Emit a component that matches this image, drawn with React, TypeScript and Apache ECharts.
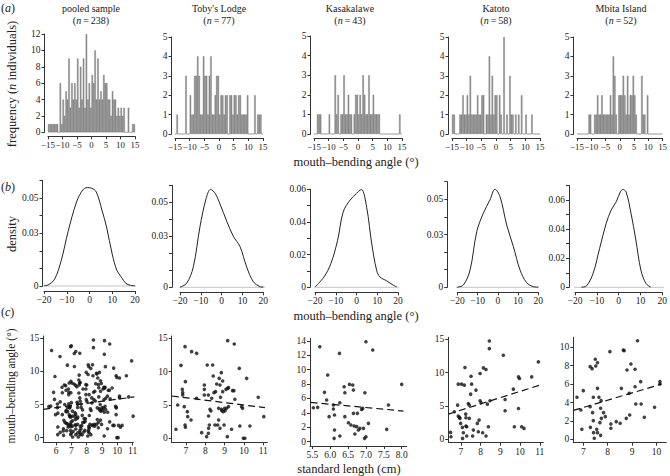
import React, { useEffect, useRef } from 'react';
import * as echarts from 'echarts';

const FONT = 'Liberation Serif';

// ---------- (a) histogram counts, bins of 0.5 from -15 to 15 ----------
const histPooled = [1,1,1,1,1,1,1,0,6,1,4,2,5,4,9,3,6,4,6,4,9,3,8,4,9,3,12,4,6,3,7,6,10,4,9,4,5,4,7,6,6,4,4,2,5,4,4,2,3,2,3,2,3,0,0,3,0,0,1,1];
const histToby = [0,1,0,0,0,0,0,3,0,0,2,1,1,3,3,4,3,1,1,4,3,3,1,3,4,1,1,2,3,3,1,2,2,1,2,2,0,2,2,1,2,2,1,2,2,1,1,1,1,2,0,0,0,0,2,0,1,1,1,0];
const histKasa = [0,0,1,1,1,0,0,0,0,0,1,0,0,0,3,1,2,0,1,1,3,1,1,2,1,1,0,1,2,2,1,2,1,3,2,1,1,3,1,1,2,1,1,1,1,0,0,0,0,0,0,0,0,0,0,0,0,0,1,0];
const histKatoto = [1,1,0,0,0,1,1,2,1,1,2,1,3,1,1,1,1,2,1,1,2,2,0,1,1,4,1,3,1,2,2,0,2,1,0,5,0,1,0,3,1,1,0,1,0,1,0,2,0,0,1,0,0,0,1,0,0,0,0,0];
const histMbita = [0,0,0,0,0,0,0,0,1,1,0,0,1,1,2,1,1,2,1,1,1,1,1,2,1,4,3,1,0,2,2,2,3,2,1,3,1,2,2,3,2,1,0,0,0,3,1,1,0,2,0,0,0,0,0,0,0,0,0,0];
const histXTicks = [-15, -10, -5, 0, 5, 10, 15];

// ---------- (b) kernel density curves ----------
const densPooled = [[-20,0.0002],[-18.2,0.0006],[-15.3,0.004],[-12.4,0.0146],[-9.4,0.031],[-5.7,0.0477],[-3,0.0545],[-1,0.0559],[1,0.0555],[3,0.0534],[5.5,0.043],[7.5,0.0335],[10,0.018],[12,0.009],[14,0.005],[16,0.0015],[18,0.0004],[20,0.0001]];
const densToby = [[-20,0.0001],[-16.8,0.0024],[-13.6,0.012],[-10.4,0.0357],[-7.5,0.052],[-5.3,0.0576],[-3,0.055],[-0.8,0.049],[2.4,0.039],[5.6,0.030],[8.8,0.024],[12,0.012],[15.2,0.0033],[18.4,0.0004],[20,0.0001]];
const densKasa = [[-20,0.0002],[-15.7,0.0063],[-12.3,0.0147],[-9.1,0.0288],[-6.4,0.0462],[-3.1,0.0534],[0,0.0575],[1.7,0.0595],[2.5,0.0598],[4.9,0.049],[7.3,0.027],[9.7,0.0104],[11.3,0.0063],[14.5,0.004],[17.7,0.0013],[19.4,0.0003]];
const densKatoto = [[-20,0.0001],[-17,0.0013],[-13.7,0.0098],[-10.4,0.0316],[-7.2,0.042],[-3.9,0.0496],[-1.4,0.0557],[1.1,0.0515],[4.4,0.0354],[7.7,0.0231],[11,0.0098],[14.2,0.0027],[17.5,0.0004],[20,0.0001]];
const densMbita = [[-17,0.0001],[-14.7,0.001],[-11.7,0.0096],[-8.7,0.0268],[-5.7,0.044],[-3.4,0.0531],[-1.1,0.0588],[0.8,0.0657],[1.9,0.0673],[3.4,0.0657],[5.7,0.0508],[7.9,0.0325],[10.2,0.0119],[12.5,0.0027],[14.7,0.0002]];
const densXTicks = [-20, -10, 0, 10, 20];

// ---------- (c) standard length (cm) vs mouth-bending angle ----------
const scatToby = [[6.48,1.35],[6.57,5.0],[6.74,10.95],[6.81,7.35],[6.83,6.85],[6.83,6.5],[6.91,4.75],[6.97,8.5],[6.95,13.75],[6.95,2.0],[6.97,1.65],[7.07,4.0],[7.09,3.25],[7.26,2.75],[7.29,13.0],[7.55,12.75],[7.55,6.0],[7.81,0.85],[7.95,8.0],[7.95,7.35],[7.95,6.5],[8.07,0.25],[8.1,11.0],[8.16,0.75],[8.17,1.5],[8.21,2.0],[8.17,3.35],[8.16,6.5],[8.24,4.35],[8.29,4.1],[8.33,6.0],[8.38,11.0],[8.41,9.35],[8.45,6.85],[8.5,2.0],[8.53,7.0],[8.59,8.15],[8.64,2.0],[8.69,2.75],[8.69,4.5],[8.72,9.0],[8.76,8.0],[8.76,1.5],[8.79,6.15],[8.83,9.85],[8.83,4.35],[8.86,4.15],[8.9,8.6],[8.9,7.0],[8.93,4.0],[8.97,2.0],[9.0,4.5],[9.02,4.15],[9.07,7.35],[9.1,4.5],[9.14,0.25],[9.16,14.65],[9.16,7.5],[9.2,7.6],[9.2,4.75],[9.36,1.35],[9.41,7.15],[9.48,7.15],[9.5,14.15],[9.53,5.85],[9.76,10.5],[9.79,1.85],[9.88,4.75],[9.93,4.5],[9.97,0],[10.05,0],[10.14,9.0],[10.31,1.85],[10.74,6.15],[11.03,3.25]];
const scatKasa = [[5.53,4.71],[5.65,4.76],[5.71,13.17],[5.84,6.84],[5.9,5.78],[5.93,9.24],[5.97,3.47],[6.09,4.53],[6.09,5.08],[6.12,3.7],[6.12,1.62],[6.11,0.46],[6.26,12.25],[6.27,0.79],[6.27,5.4],[6.39,7.62],[6.41,6.79],[6.41,3.47],[6.51,2.63],[6.54,7.95],[6.58,2.31],[6.63,7.86],[6.65,7.16],[6.65,3.93],[6.67,2.17],[6.69,1.06],[6.74,2.08],[6.76,3.93],[6.79,1.62],[6.83,1.85],[6.88,4.48],[6.91,4.62],[6.93,1.85],[6.96,0.46],[6.97,6.79],[7.0,0.69],[7.0,13.86],[7.07,2.54],[7.19,12.71],[7.58,1.71],[7.63,5.08],[8.0,7.95]];
const scatKatoto = [[6.47,1.0],[6.49,0.35],[6.66,4.1],[6.83,5.1],[6.86,8.25],[6.86,3.45],[6.92,3.25],[6.95,3.1],[6.98,2.35],[7.03,8.25],[7.07,1.75],[7.08,0.1],[7.12,0.95],[7.17,8.1],[7.2,10.75],[7.24,3.75],[7.25,3.2],[7.25,1.95],[7.29,1.85],[7.29,0.45],[7.37,5.35],[7.42,5.1],[7.42,3.1],[7.49,6.75],[7.51,9.45],[7.54,8.25],[7.59,0.45],[7.63,1.35],[7.76,7.35],[7.83,2.35],[7.88,1.1],[7.92,2.85],[7.97,9.85],[7.97,5.75],[8.02,5.45],[8.1,0.95],[8.14,10.7],[8.27,10.45],[8.27,0.45],[8.34,5.25],[8.39,1.85],[8.44,14.75],[8.44,13.6],[8.47,5.75],[9.15,12.6],[9.24,5.95],[9.24,4.25],[9.66,7.5],[9.71,1.85],[9.92,9.35],[9.97,9.1],[9.92,4.6],[10.08,1.85],[10.2,1.6],[10.59,9.35],[10.93,11.6]];
const scatMbita = [[6.74,4.57],[6.9,3.19],[6.94,1.09],[7.0,5.29],[7.28,7.9],[7.28,3.55],[7.29,1.3],[7.36,7.68],[7.38,2.9],[7.41,4.57],[7.41,2.03],[7.42,0.72],[7.45,0.11],[7.49,8.7],[7.51,7.97],[7.55,1.09],[7.58,8.33],[7.58,0.72],[7.58,5.54],[7.64,4.57],[7.68,1.81],[7.71,3.37],[7.74,2.28],[7.73,4.2],[7.71,0.43],[7.83,2.9],[7.9,2.46],[8.09,9.53],[8.13,1.2],[8.13,1.67],[8.35,1.92],[8.51,1.74],[8.56,5.54],[8.64,9.71],[8.67,9.64],[8.76,2.28],[8.79,7.54],[8.88,5.0],[8.9,2.64],[8.95,8.19],[9.12,7.61],[9.12,5.72],[9.15,3.84],[9.22,10.72],[9.35,6.27],[9.37,3.84],[9.5,2.39],[9.92,3.48],[10.14,6.27],[10.14,6.01]];
const scatPooled = [...scatToby, ...scatKasa, ...scatKatoto, ...scatMbita];

const fitPooled = [[5.17,4.28],[11.1,6.15]];
const fitToby = [[6.26,6.35],[11.09,4.6]];
const fitKasa = [[5.45,5.45],[8.05,4.25]];
const fitKatoto = [[6.36,3.75],[11.1,8.2]];
const fitMbita = [[6.6,3.14],[10.2,6.0]];

const titles = ['pooled sample', "Toby's Lodge", 'Kasakalawe', 'Katoto', 'Mbita Island'];
const sampleSizes = [238, 77, 43, 58, 52];

const fmtNum = (v: number) => (v < 0 ? '\u2212' + Math.abs(v) : String(v));

type Box = { left: number; top: number; width: number; height: number };

function App() {
  const ref = useRef<HTMLDivElement>(null);
  useEffect(() => {
    if (!ref.current) return;
    const chart = echarts.init(ref.current, null, { renderer: 'svg' });
    const grids: any[] = [];
    const xAxes: any[] = [];
    const yAxes: any[] = [];
    const series: any[] = [];
    const lineCol = '#333';
    const labelStyle = { fontFamily: FONT, fontSize: 9.5, color: '#222' };

    const addPanel = (
      box: Box,
      x: { min: number; max: number; ticks: number[]; labels?: number[]; fmt?: (v: number) => string; offset: number; fs?: number },
      y: { min: number; max: number; ticks: number[]; labels?: number[]; fmt?: (v: number) => string; offset: number }
    ) => {
      const gi = grids.length;
      grids.push({ ...box, containLabel: false });
      xAxes.push({
        gridIndex: gi, type: 'value', min: x.min, max: x.max, offset: x.offset,
        axisLine: { show: true, onZero: false, lineStyle: { color: lineCol, width: 1 } },
        axisTick: { show: true, length: 3, customValues: x.ticks, lineStyle: { color: lineCol, width: 1 } },
        axisLabel: { ...labelStyle, fontSize: x.fs || labelStyle.fontSize, margin: 4, customValues: x.labels || x.ticks, formatter: x.fmt || fmtNum, hideOverlap: false, showMinLabel: true, showMaxLabel: true },
        splitLine: { show: false },
      });
      yAxes.push({
        gridIndex: gi, type: 'value', min: y.min, max: y.max, offset: y.offset,
        axisLine: { show: true, onZero: false, lineStyle: { color: lineCol, width: 1 } },
        axisTick: { show: true, length: 3, customValues: y.ticks, lineStyle: { color: lineCol, width: 1 } },
        axisLabel: { ...labelStyle, margin: 4, customValues: y.labels || y.ticks, formatter: y.fmt || fmtNum, hideOverlap: false, showMinLabel: true, showMaxLabel: true },
        splitLine: { show: false },
      });
      return gi;
    };

    // ---- row (a): histograms
    const histBoxes: Box[] = [
      { left: 48, top: 34, width: 87, height: 98.3 },
      { left: 175, top: 37, width: 88, height: 97 },
      { left: 314, top: 36, width: 88, height: 98 },
      { left: 452, top: 37, width: 88, height: 97 },
      { left: 577, top: 37, width: 88, height: 97 },
    ];
    const hists = [histPooled, histToby, histKasa, histKatoto, histMbita];
    hists.forEach((counts, p) => {
      const ymax = p === 0 ? 12 : 5;
      const yt = p === 0 ? [0, 2, 4, 6, 8, 10, 12] : [0, 1, 2, 3, 4, 5];
      const gi = addPanel(
        histBoxes[p],
        { min: -15, max: 15, ticks: histXTicks, offset: 4, fs: 8.9 },
        { min: 0, max: ymax, ticks: yt, offset: 3.5 }
      );
      series.push({
        type: 'bar', xAxisIndex: gi, yAxisIndex: gi,
        data: counts.map((c, k) => [-14.75 + 0.5 * k, c]),
        barWidth: 1.45,
        itemStyle: { color: '#9a9a9a', borderColor: '#5e5e5e', borderWidth: 0.35 },
        silent: true,
      });
    });

    // ---- row (b): densities
    const densBoxes: Box[] = [
      { left: 44, top: 180.4, width: 91, height: 105.6 },
      { left: 180, top: 185.3, width: 83.3, height: 102 },
      { left: 315, top: 189.3, width: 83, height: 98 },
      { left: 457.3, top: 181.7, width: 81, height: 105.6 },
      { left: 575, top: 185.5, width: 88.3, height: 101.8 },
    ];
    const dens = [densPooled, densToby, densKasa, densKatoto, densMbita];
    const densYOff = [1.5, 8, 5, 10, 6];
    const baseExt = [[-21.8, 22.2], [-23.7, 21.6], [-22.4, 22.4], [-25.5, 22], [-22.9, 22.4]];
    dens.forEach((pts, p) => {
      const six = p === 2 || p === 4;
      const ymax = p === 4 ? 0.07 : 0.06;
      const yt = p === 4 ? [0, 0.01, 0.02, 0.03, 0.04, 0.05, 0.06, 0.07] : [0, 0.01, 0.02, 0.03, 0.04, 0.05, 0.06];
      const yl = six ? [0, 0.02, 0.04, 0.06] : [0, 0.03, 0.05];
      const gi = addPanel(
        densBoxes[p],
        { min: -20, max: 20, ticks: densXTicks, offset: 5 },
        { min: 0, max: ymax, ticks: yt, labels: yl, fmt: (v) => (v === 0 ? '0' : v.toFixed(2)), offset: densYOff[p] }
      );
      series.push({
        type: 'line', xAxisIndex: gi, yAxisIndex: gi, clip: false, silent: true,
        data: [[baseExt[p][0], 0], [baseExt[p][1], 0]], showSymbol: false, symbol: 'none',
        lineStyle: { color: '#c4c4c4', width: 1 }, z: 1,
      });
      series.push({
        type: 'line', xAxisIndex: gi, yAxisIndex: gi, clip: false, silent: true,
        data: pts, smooth: 0.35, showSymbol: false, symbol: 'none',
        lineStyle: { color: '#222', width: 1 }, z: 3,
      });
    });

    // ---- row (c): scatter
    const scatBoxes: Box[] = [
      { left: 43.3, top: 336, width: 90, height: 106.3 },
      { left: 171.7, top: 336, width: 95.6, height: 106.3 },
      { left: 310, top: 338.3, width: 96.7, height: 107.7 },
      { left: 448.3, top: 337.3, width: 95, height: 105.4 },
      { left: 573.3, top: 337.3, width: 93, height: 105.4 },
    ];
    const scatCfg = [
      { x: [5.17, 11.04], xt: [6, 7, 8, 9, 10, 11], y: [-0.7, 15.35], yt: [0, 5, 10, 15] },
      { x: [6.26, 11.21], xt: [7, 8, 9, 10, 11], y: [-0.6, 15.35], yt: [0, 5, 10, 15] },
      { x: [5.435, 8.14], xt: [5.5, 6, 6.5, 7, 7.5, 8], y: [-0.6, 14.34], yt: [0, 2, 4, 6, 8, 10, 12, 14] },
      { x: [6.355, 11.18], xt: [7, 8, 9, 10, 11], y: [-0.55, 15.3], yt: [0, 5, 10, 15] },
      { x: [6.59, 10.4], xt: [7, 8, 9, 10], y: [-0.37, 11.09], yt: [0, 2, 4, 6, 8, 10] },
    ];
    const scats = [scatPooled, scatToby, scatKasa, scatKatoto, scatMbita];
    const fits = [fitPooled, fitToby, fitKasa, fitKatoto, fitMbita];
    scats.forEach((pts, p) => {
      const c = scatCfg[p];
      const gi = addPanel(
        scatBoxes[p],
        { min: c.x[0], max: c.x[1], ticks: c.xt, fmt: p === 2 ? (v) => v.toFixed(1) : fmtNum, offset: 0 },
        { min: c.y[0], max: c.y[1], ticks: c.yt, offset: 0 }
      );
      series.push({
        type: 'scatter', xAxisIndex: gi, yAxisIndex: gi, silent: true,
        data: pts, symbolSize: 3.6, itemStyle: { color: '#111' }, z: 2,
      });
      series.push({
        type: 'line', xAxisIndex: gi, yAxisIndex: gi, clip: false, silent: true,
        data: fits[p], showSymbol: false, symbol: 'none',
        lineStyle: { color: '#111', width: 1.2, type: [7, 4] }, z: 3,
      });
    });

    // ---- texts
    const txt = (text: string, x: number, y: number, size: number, extra: any = {}) => ({
      type: 'text', x, y, silent: true, ...extra,
      style: {
        text, fontFamily: FONT, fontSize: size, fill: '#222',
        align: extra.align || 'center', verticalAlign: 'middle',
        rich: { i: { fontStyle: 'italic', fontFamily: FONT, fontSize: size, fill: '#222' } },
      },
    });
    const titleX = [91, 219, 350, 496, 621];
    const graphic: any[] = [];
    titles.forEach((t, p) => {
      graphic.push(txt(t, titleX[p], 8, 10));
      graphic.push(txt('({i|n}\u2009=\u2009' + sampleSizes[p] + ')', titleX[p], 20, 10));
    });
    graphic.push(txt('({i|a})', 1, 8, 12, { align: 'left' }));
    graphic.push(txt('({i|b})', 1, 187, 12, { align: 'left' }));
    graphic.push(txt('({i|c})', 1, 312, 12, { align: 'left' }));
    graphic.push(txt('frequency ({i|n} individuals)', 12, 84, 12.5, { rotation: Math.PI / 2 }));
    graphic.push(txt('density', 12, 234, 12.5, { rotation: Math.PI / 2 }));
    graphic.push(txt('mouth\u2013bending angle (\u00b0)', 11, 386, 11.5, { rotation: Math.PI / 2 }));
    graphic.push(txt('mouth\u2013bending angle (\u00b0)', 356, 162, 12.5));
    graphic.push(txt('mouth\u2013bending angle (\u00b0)', 356, 316, 12.5));
    graphic.push(txt('standard length (cm)', 349, 469, 12.5));

    chart.setOption({
      animation: false,
      backgroundColor: '#fff',
      grid: grids,
      xAxis: xAxes,
      yAxis: yAxes,
      series,
      graphic,
    });
    return () => chart.dispose();
  }, []);
  return <div ref={ref} style={{ position: 'absolute', left: 0, top: 0, width: 670, height: 476, background: '#fff' }} />;
}

export default App;
